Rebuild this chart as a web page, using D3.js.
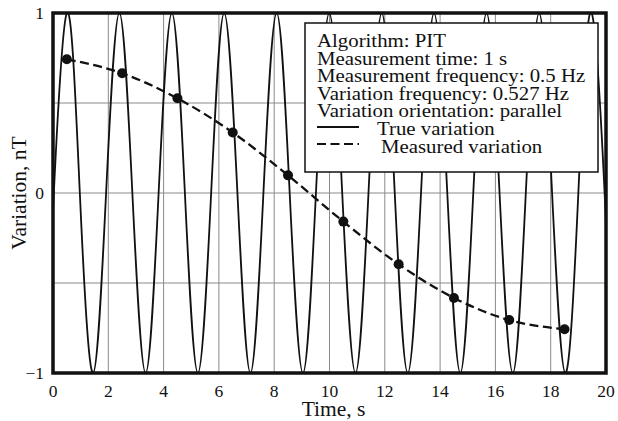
<!DOCTYPE html>
<html><head><meta charset="utf-8">
<script src="https://cdn.jsdelivr.net/npm/d3@7"></script>
<style>body{margin:0;background:#fff}svg{display:block}text{font-family:"Liberation Serif","DejaVu Serif",serif;fill:#111}</style>
</head><body><svg id="c" width="618" height="421"></svg>
<script>
// Measured samples (PIT algorithm)
const measTime = [0.5, 2.5, 4.5, 6.5, 8.5, 10.5, 12.5, 14.5, 16.5, 18.5];
const measValue = [0.743, 0.665, 0.526, 0.336, 0.098, -0.159, -0.396, -0.583, -0.706, -0.757];
// True variation read at quarter-period landmarks (crossings, peaks, troughs)
const trueTime = [0.00, 0.03, 0.50, 0.97, 1.45, 1.92, 2.40, 2.87, 3.35, 3.82, 4.30, 4.77, 5.24, 5.72, 6.19, 6.67, 7.14, 7.61, 8.09, 8.56, 9.04, 9.51, 9.99, 10.46, 10.94, 11.41, 11.89, 12.36, 12.83, 13.31, 13.78, 14.26, 14.73, 15.20, 15.68, 16.15, 16.63, 17.10, 17.58, 18.05, 18.53, 19.00, 19.48, 19.95, 20.00];
const trueValue = [-0.09, 0, 1, 0, -1, 0, 1, 0, -1, 0, 1, 0, -1, 0, 1, 0, -1, 0, 1, 0, -1, 0, 1, 0, -1, 0, 1, 0, -1, 0, 1, 0, -1, 0, 1, 0, -1, 0, 1, 0, -1, 0, 1, 0, -0.17];
const xTicks = [0, 2, 4, 6, 8, 10, 12, 14, 16, 18, 20];
const yTicks = [-1, 0, 1];
const yGrid = [-0.5, 0, 0.5];
const legendLines = ["Algorithm: PIT", "Measurement time: 1 s", "Measurement frequency: 0.5 Hz", "Variation frequency: 0.527 Hz", "Variation orientation: parallel"];

const svg = d3.select("#c");
const L = 53, R = 606, T = 13, B = 373;
const x = d3.scaleLinear().domain([0, 20]).range([L, R]);
const y = d3.scaleLinear().domain([-1, 1]).range([B, T]);

svg.append("defs").append("clipPath").attr("id", "clip")
  .append("rect").attr("x", L).attr("y", T).attr("width", R - L).attr("height", B - T);

// grid
const g = svg.append("g");
g.selectAll(".vx").data(xTicks.slice(1, -1)).join("line")
  .attr("x1", d => x(d)).attr("x2", d => x(d)).attr("y1", T).attr("y2", B)
  .attr("stroke", "#8a8a8a").attr("stroke-width", 1);
g.selectAll(".hy").data(yGrid).join("line")
  .attr("y1", d => y(d)).attr("y2", d => y(d)).attr("x1", L).attr("x2", R)
  .attr("stroke", "#8a8a8a").attr("stroke-width", 1);

const plot = svg.append("g").attr("clip-path", "url(#clip)");
const trueData = trueTime.map((t, i) => [t, trueValue[i]]);
plot.append("path").datum(trueData)
  .attr("d", d3.line().x(d => x(d[0])).y(d => y(d[1])).curve(d3.curveNatural))
  .attr("fill", "none").attr("stroke", "#111").attr("stroke-width", 1.8);

const measData = measTime.map((t, i) => [t, measValue[i]]);
plot.append("path").datum(measData)
  .attr("d", d3.line().x(d => x(d[0])).y(d => y(d[1])).curve(d3.curveMonotoneX))
  .attr("fill", "none").attr("stroke", "#111").attr("stroke-width", 2.3).attr("stroke-dasharray", "9,4.5");
plot.selectAll("circle").data(measData).join("circle")
  .attr("cx", d => x(d[0])).attr("cy", d => y(d[1])).attr("r", 5).attr("fill", "#111");

// legend
const lg = svg.append("g");
lg.append("rect").attr("x", 305).attr("y", 23).attr("width", 293).attr("height", 149)
  .attr("fill", "#fff").attr("stroke", "#111").attr("stroke-width", 1.5);
const lt = lg.append("g").attr("transform", "translate(317,0) scale(1.12,1)");
legendLines.forEach((s, i) => {
  lt.append("text").attr("x", 0).attr("y", 47 + i * 17.6).attr("font-size", 18.6).text(s);
});
lg.append("line").attr("x1", 317).attr("x2", 359).attr("y1", 127).attr("y2", 127).attr("stroke", "#111").attr("stroke-width", 1.8);
lt.append("text").attr("x", (377 - 317) / 1.12).attr("y", 135).attr("font-size", 18.6).text("True variation");
lg.append("line").attr("x1", 317).attr("x2", 359).attr("y1", 144).attr("y2", 144).attr("stroke", "#111").attr("stroke-width", 2).attr("stroke-dasharray", "9,4.5");
lt.append("text").attr("x", (381 - 317) / 1.12).attr("y", 152.7).attr("font-size", 18.6).text("Measured variation");

// frame
svg.append("rect").attr("x", L).attr("y", T).attr("width", R - L).attr("height", B - T)
  .attr("fill", "none").attr("stroke", "#111").attr("stroke-width", 3.5);

// axes labels
svg.selectAll(".xt").data(xTicks).join("text")
  .attr("x", d => x(d)).attr("y", 397).attr("text-anchor", "middle").attr("font-size", 17.5)
  .text(d => d3.format("d")(d));
svg.selectAll(".yt").data(yTicks).join("text")
  .attr("x", 44).attr("y", d => y(d) + 6).attr("text-anchor", "end").attr("font-size", 17.5)
  .text(d => d < 0 ? "\u2212" + Math.abs(d) : d);
svg.append("text").attr("x", (L + R) / 2 + 4).attr("y", 416).attr("text-anchor", "middle").attr("font-size", 21.5).text("Time, s");
svg.append("text").attr("transform", `translate(26,${(T + B) / 2}) rotate(-90)`).attr("text-anchor", "middle").attr("font-size", 21.5).text("Variation, nT");
</script></body></html>
